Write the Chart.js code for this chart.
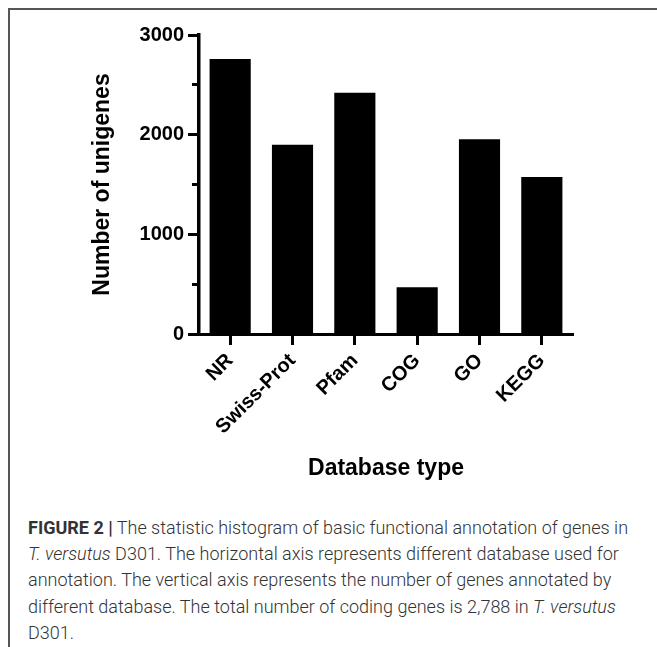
<!DOCTYPE html>
<html>
<head>
<meta charset="utf-8">
<script src="https://cdn.jsdelivr.net/npm/chart.js@4.4.0/dist/chart.umd.min.js"></script>
<style>
  html, body { margin: 0; padding: 0; background: #fff; }
  #fig { position: relative; width: 657px; height: 647px; overflow: hidden; }
  #wrap { position: absolute; left: 0; top: 0; width: 657px; height: 500px; z-index: 1; }
  #topline { position: absolute; left: 8px; top: 8px; width: 649px; height: 2px; background: #555; }
  #leftline { position: absolute; left: 8px; top: 8px; width: 2px; height: 639px; background: #555; }
  #caption { position: absolute; left: 28px; top: 515px; font: 300 18px Roboto, sans-serif;
             line-height: 26.2px; color: #333; white-space: nowrap; }
  #caption b { font-weight: 700; }
</style>
</head>
<body>
<div id="fig">
  <div id="topline"></div>
  <div id="leftline"></div>
  <div id="wrap"><canvas id="chart" width="657" height="500"></canvas></div>
  <div id="caption">
    <b>FIGURE 2 |</b> The statistic histogram of basic functional annotation of genes in<br>
    <i>T. versutus</i> D301. The horizontal axis represents different database used for<br>
    annotation. The vertical axis represents the number of genes annotated by<br>
    different database. The total number of coding genes is 2,788 in <i>T. versutus</i><br>
    D301.
  </div>
</div>
<script>
// ── Data ──
const categories = ['NR', 'Swiss-Prot', 'Pfam', 'COG', 'GO', 'KEGG'];
const unigenes = [2760, 1900, 2420, 470, 1955, 1575];
const yMajorTicks = [0, 1000, 2000, 3000];
const yMinorTicks = [0, 500, 1000, 1500, 2000, 2500, 3000];

const FONT = '"Liberation Sans", Arial, Helvetica, sans-serif';
const INK = '#000';
const axisFont = { family: FONT, weight: 'bold', size: 20 };
const titleFont = { family: FONT, weight: 'bold', size: 23 };

new Chart(document.getElementById('chart'), {
  type: 'bar',
  data: {
    labels: categories,
    datasets: [{
      data: unigenes,
      yAxisID: 'y',
      backgroundColor: INK,
      categoryPercentage: 1,
      barPercentage: 0.66,
    }]
  },
  options: {
    responsive: false,
    animation: false,
    layout: { padding: { top: 35, right: 84, left: 0, bottom: 0 } },
    plugins: { legend: { display: false }, tooltip: { enabled: false } },
    scales: {
      x: {
        grid: { offset: false, drawOnChartArea: false, tickLength: 11, tickWidth: 3, tickColor: INK },
        border: { color: INK, width: 3 },
        ticks: { color: INK, font: axisFont, minRotation: 45, maxRotation: 45, padding: 4, autoSkip: false },
        title: { display: true, text: 'Database type', color: INK, font: titleFont, padding: { top: 0, bottom: 18 } },
        afterFit: s => { s.height = 166; }
      },
      y: {
        position: 'left',
        weight: 1,
        min: 0, max: 3000,
        afterBuildTicks: s => { s.ticks = yMajorTicks.map(v => ({ value: v })); },
        grid: { drawOnChartArea: false, tickLength: 11, tickWidth: 3, tickColor: INK },
        border: { display: false },
        ticks: { color: INK, font: axisFont, padding: 4, callback: v => String(v) },
        title: { display: true, text: 'Number of unigenes', color: INK, font: titleFont, padding: { top: 89, bottom: 0 } },
        afterFit: s => { s.width = 199; }
      },
      // inner axis: carries the axis line and the short minor ticks every 500
      yMinor: {
        position: 'left',
        weight: 0,
        min: 0, max: 3000,
        afterBuildTicks: s => { s.ticks = yMinorTicks.map(v => ({ value: v })); },
        grid: { drawOnChartArea: false, tickLength: 7, tickWidth: 3, tickColor: INK },
        border: { display: true, color: INK, width: 3.5 },
        ticks: { display: false },
        afterFit: s => { s.width = 0; }
      }
    }
  }
});
</script>
</body>
</html>
